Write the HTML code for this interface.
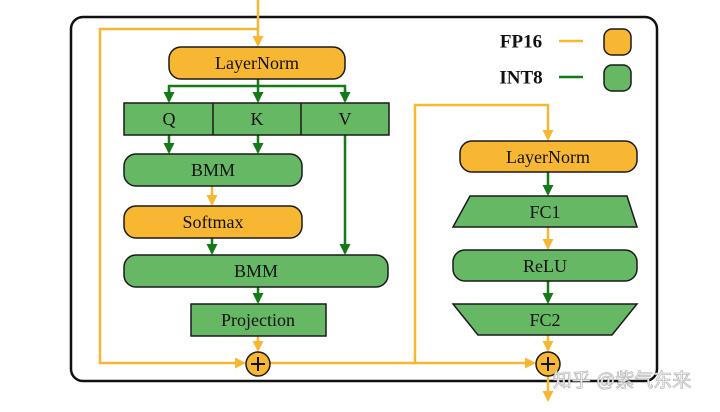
<!DOCTYPE html>
<html><head><meta charset="utf-8"><style>
html,body{margin:0;padding:0;background:#fff;}
svg{display:block;}
text{font-family:"Liberation Serif",serif;font-size:18px;fill:#111;text-anchor:middle;dominant-baseline:central;}
</style></head><body>
<svg width="720" height="412" viewBox="0 0 720 412" xmlns="http://www.w3.org/2000/svg">
<defs>
<marker id="ao" markerWidth="11" markerHeight="11" refX="9" refY="5.5" orient="auto" markerUnits="userSpaceOnUse"><path d="M0,0 L11,5.5 L0,11 Z" fill="#F7B733"/></marker>
<marker id="ag" markerWidth="11" markerHeight="11" refX="9" refY="5.5" orient="auto" markerUnits="userSpaceOnUse"><path d="M0,0 L11,5.5 L0,11 Z" fill="#137A17"/></marker>
</defs>
<rect x="71" y="17" width="586" height="364" rx="12" fill="none" stroke="#111" stroke-width="2.5"/>
<g stroke="#F7B733" stroke-width="2.5" fill="none">
<line x1="258" y1="0" x2="258" y2="45" marker-end="url(#ao)"/>
<polyline points="258,29 100,29 100,363 244,363" marker-end="url(#ao)"/>
<line x1="212" y1="186" x2="212" y2="204" marker-end="url(#ao)"/>
<line x1="258" y1="336" x2="258" y2="350" marker-end="url(#ao)"/>
<polyline points="270,363 415,363 415,105 548,105 548,139" marker-end="url(#ao)"/>
<line x1="415" y1="363" x2="534" y2="363" marker-end="url(#ao)"/>
<line x1="548" y1="227" x2="548" y2="248" marker-end="url(#ao)"/>
<line x1="548" y1="335" x2="548" y2="350" marker-end="url(#ao)"/>
<line x1="548" y1="376" x2="548" y2="400" marker-end="url(#ao)"/>
<line x1="559" y1="41" x2="583" y2="41"/>
</g>
<g stroke="#137A17" stroke-width="2.5" fill="none">
<line x1="258" y1="79" x2="258" y2="101" marker-end="url(#ag)"/>
<polyline points="169,101 169,86 345,86 345,101" />
<line x1="169" y1="90" x2="169" y2="101" marker-end="url(#ag)"/>
<line x1="345" y1="90" x2="345" y2="101" marker-end="url(#ag)"/>
<line x1="169" y1="135" x2="169" y2="152" marker-end="url(#ag)"/>
<line x1="258" y1="135" x2="258" y2="152" marker-end="url(#ag)"/>
<line x1="345" y1="135" x2="345" y2="253" marker-end="url(#ag)"/>
<line x1="212" y1="238" x2="212" y2="253" marker-end="url(#ag)"/>
<line x1="258" y1="287" x2="258" y2="302" marker-end="url(#ag)"/>
<line x1="548" y1="172" x2="548" y2="194" marker-end="url(#ag)"/>
<line x1="548" y1="281" x2="548" y2="302" marker-end="url(#ag)"/>
<line x1="559" y1="77" x2="583" y2="77"/>
</g>
<g stroke="#1a1a1a" stroke-width="1.5">
<rect x="169" y="47" width="176" height="32" rx="12" fill="#F7B733"/>
<rect x="124" y="103" width="265" height="32" fill="#66B865"/>
<line x1="213" y1="103" x2="213" y2="135"/><line x1="301" y1="103" x2="301" y2="135"/>
<rect x="124" y="154" width="178" height="32" rx="12" fill="#66B865"/>
<rect x="124" y="206" width="178" height="32" rx="12" fill="#F7B733"/>
<rect x="124" y="255" width="264" height="32" rx="12" fill="#66B865"/>
<rect x="191" y="304" width="135" height="32" fill="#66B865"/>
<circle cx="258" cy="364" r="12" fill="#F7B733"/>
<rect x="460" y="141" width="177" height="31" rx="12" fill="#F7B733"/>
<polygon points="470,196 627,196 637,227 453,227" fill="#66B865"/>
<rect x="453" y="250" width="184" height="31" rx="12" fill="#66B865"/>
<polygon points="453,304 637,304 612,335 478,335" fill="#66B865"/>
<circle cx="548" cy="364" r="12" fill="#F7B733"/>
<rect x="604" y="29" width="27" height="26" rx="8" fill="#F7B733"/>
<rect x="604" y="65" width="27" height="26" rx="8" fill="#66B865"/>
</g>
<g stroke="#111" stroke-width="2">
<line x1="251" y1="364" x2="265" y2="364"/><line x1="258" y1="357" x2="258" y2="371"/>
<line x1="541" y1="364" x2="555" y2="364"/><line x1="548" y1="357" x2="548" y2="371"/>
</g>
<text x="257" y="63">LayerNorm</text>
<text x="169" y="119">Q</text><text x="257" y="119">K</text><text x="345" y="119">V</text>
<text x="213" y="170">BMM</text>
<text x="213" y="222">Softmax</text>
<text x="256" y="271">BMM</text>
<text x="258" y="320">Projection</text>
<text x="548" y="157">LayerNorm</text>
<text x="545" y="212">FC1</text>
<text x="545" y="266">ReLU</text>
<text x="545" y="320">FC2</text>
<text x="521" y="42" style="font-weight:bold;font-size:19px">FP16</text>
<text x="521" y="78" style="font-weight:bold;font-size:19px">INT8</text>
<text x="622" y="381" style="font-family:'Liberation Sans','Noto Sans CJK SC',sans-serif;font-size:19px;fill:#fff;stroke:#bbb;stroke-width:0.8">知乎 @紫气东来</text>
</svg>
</body></html>
